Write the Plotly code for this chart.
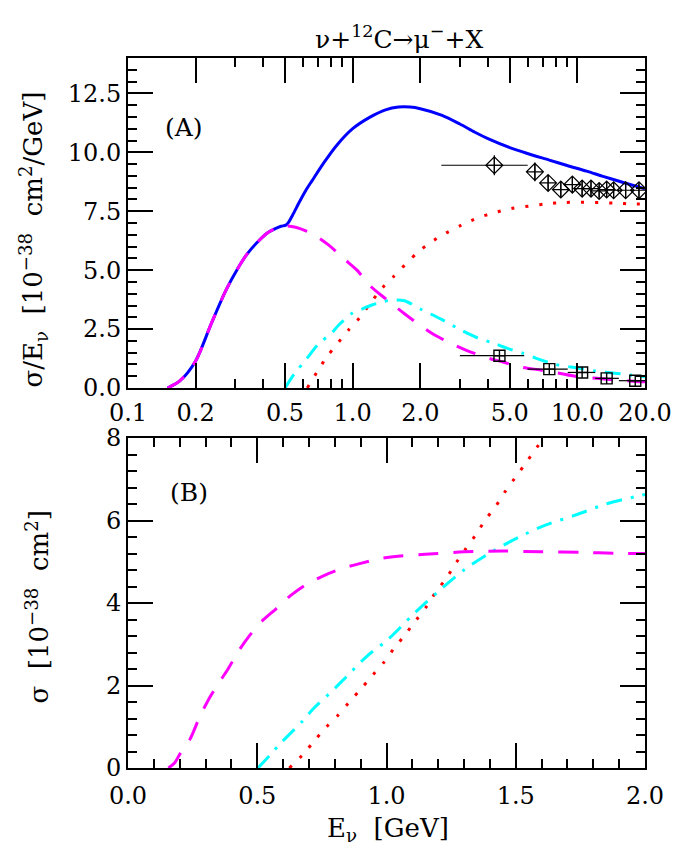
import plotly.graph_objects as go

# ---------- Panel A : sigma/E (log E axis) ----------
tot_E = [0.15, 0.17, 0.2, 0.235, 0.273, 0.308, 0.34, 0.384, 0.42, 0.455, 0.48, 0.504, 0.52, 0.54,
         0.58, 0.62, 0.66, 0.75, 0.85, 1.0, 1.2, 1.4, 1.6, 1.8, 2.0, 2.5, 3.0, 3.5, 4.0, 5.0, 6.0, 7.5,
         9.0, 11.0, 13.0, 16.0, 20.0]
tot_v = [0.0, 0.3, 1.15, 2.74, 4.15, 5.07, 5.7, 6.27, 6.6, 6.77, 6.86, 6.91, 7.05, 7.33,
         7.9, 8.4, 8.8, 9.6, 10.3, 11.0, 11.5, 11.8, 11.92, 11.92, 11.85, 11.57, 11.2, 10.85, 10.58, 10.2, 9.95, 9.67,
         9.44, 9.2, 8.98, 8.72, 8.45]

qe_E = [0.15, 0.17, 0.2, 0.235, 0.273, 0.308, 0.34, 0.384, 0.42, 0.455, 0.5, 0.557, 0.66, 0.783,
        0.91, 1.045, 1.2, 1.396, 1.7, 2.24, 2.66, 3.19, 3.88, 4.66, 5.6, 6.86, 8.15, 10.0, 12.2,
        15.0, 18.8, 20.0]
qe_v = [0.0, 0.3, 1.15, 2.74, 4.15, 5.07, 5.7, 6.27, 6.6, 6.77, 6.88, 6.82, 6.55, 6.06,
        5.5, 5.0, 4.32, 3.8, 3.15, 2.33, 1.95, 1.61, 1.31, 1.1, 0.89, 0.76, 0.64, 0.48, 0.41,
        0.34, 0.27, 0.26]

res_E = [0.5, 0.55, 0.618, 0.708, 0.8, 0.867, 0.993, 1.1, 1.217, 1.35, 1.493, 1.7, 2.0, 2.5,
         3.03, 3.61, 4.21, 5.0, 5.71, 6.52, 8.0, 10.0, 12.0, 15.0, 17.2, 20.0]
res_v = [0.0, 0.6, 1.19, 1.89, 2.3, 2.67, 3.17, 3.35, 3.52, 3.65, 3.73, 3.7, 3.35, 2.9,
         2.46, 2.12, 1.91, 1.65, 1.48, 1.27, 1.0, 0.85, 0.72, 0.62, 0.55, 0.48]

dis_E = [0.628, 0.695, 0.769, 0.959, 1.082, 1.197, 1.348, 1.518, 1.96, 2.24, 2.61, 3.05, 3.61,
         4.28, 5.07, 6.11, 7.24, 8.73, 10.3, 12.5, 14.8, 17.8, 20.0]
dis_v = [0.0, 0.69, 1.33, 2.46, 3.02, 3.59, 4.22, 4.72, 5.78, 6.2, 6.58, 6.91, 7.22,
         7.44, 7.61, 7.72, 7.81, 7.87, 7.88, 7.87, 7.84, 7.81, 7.8]

# data: diamonds (total) and squares
dia_E = [4.27, 6.47, 7.41, 8.44, 9.5, 10.5, 11.5, 12.5, 13.5, 14.5, 16.4, 18.8]
dia_v = [9.45, 9.17, 8.7, 8.42, 8.63, 8.46, 8.46, 8.36, 8.42, 8.39, 8.39, 8.39]
dia_ey = [0.42, 0.4, 0.33, 0.3, 0.3, 0.28, 0.28, 0.28, 0.28, 0.28, 0.28, 0.28]
dia_xlo = [2.48, 6.47, 7.41, 8.44, 9.5, 10.5, 11.5, 12.5, 13.5, 14.5, 16.4, 18.8]
dia_xhi = [6.01, 6.47, 7.41, 8.44, 9.5, 10.5, 11.5, 12.5, 13.5, 14.5, 16.4, 18.8]

sq_E = [4.5, 7.5, 10.5, 13.5, 18.1]
sq_v = [1.37, 0.8, 0.66, 0.41, 0.31]
sq_xlo = [3.0, 6.0, 9.06, 12.0, 15.3]
sq_xhi = [5.8, 9.06, 12.0, 15.3, 20.0]

# ---------- Panel B : sigma (linear E axis) ----------
qeB_E = [0.156, 0.18, 0.2, 0.24, 0.278, 0.32, 0.35, 0.387, 0.426, 0.47, 0.515, 0.573, 0.631, 0.695,
         0.76, 0.83, 0.9, 0.977, 1.054, 1.15, 1.3, 1.45, 1.6, 1.75, 1.9, 2.0]
qeB_v = [0.0, 0.12, 0.33, 0.7, 1.25, 1.75, 2.05, 2.4, 2.82, 3.21, 3.54, 3.86, 4.19, 4.47,
         4.67, 4.84, 4.96, 5.08, 5.14, 5.18, 5.24, 5.26, 5.24, 5.23, 5.2, 5.2]

resB_E = [0.503, 0.55, 0.592, 0.676, 0.714, 0.797, 0.849, 0.926, 1.003, 1.108, 1.2, 1.3, 1.396,
          1.51, 1.62, 1.73, 1.85, 1.97, 2.0]
resB_v = [0.0, 0.32, 0.61, 1.14, 1.42, 1.91, 2.24, 2.72, 3.1, 3.75, 4.28, 4.8, 5.2,
          5.59, 5.9, 6.13, 6.4, 6.59, 6.63]

disB_E = [0.624, 0.676, 0.72, 0.765, 0.81, 0.855, 0.9, 0.945, 0.99, 1.028, 1.069, 1.114, 1.153,
          1.191, 1.23, 1.268, 1.307, 1.345, 1.383, 1.422, 1.46, 1.499, 1.54, 1.58, 1.65, 1.8, 2.0]
disB_v = [0.0, 0.32, 0.65, 0.98, 1.26, 1.59, 1.91, 2.24, 2.56, 2.89, 3.21, 3.58, 3.9,
          4.27, 4.59, 4.96, 5.32, 5.65, 6.02, 6.34, 6.71, 7.05, 7.4, 7.76, 8.3, 9.3, 11.5]

top_ticks = [0.1, 0.2, 0.5, 1.0, 2.0, 5.0, 10.0, 20.0]
top_ticklabels = ["0.1", "0.2", "0.5", "1.0", "2.0", "5.0", "10.0", "20.0"]
top_minor = [0.3, 0.4, 0.6, 0.7, 0.8, 0.9, 3, 4, 6, 7, 8, 9]

FONT = "DejaVu Serif"
BLUE = "#0000ff"
MAG = "#ff00ff"
CYAN = "#00ffff"
RED = "#ff0000"
SM = 0.8

fig = go.Figure()

# panel A curves
fig.add_trace(go.Scatter(x=tot_E, y=tot_v, mode="lines",
                         line=dict(color=BLUE, width=3, shape="spline", smoothing=SM),
                         xaxis="x", yaxis="y", showlegend=False))
fig.add_trace(go.Scatter(x=dis_E, y=dis_v, mode="lines",
                         line=dict(color=RED, width=3, dash="3px,11px", shape="spline", smoothing=SM),
                         xaxis="x", yaxis="y", showlegend=False))
fig.add_trace(go.Scatter(x=res_E, y=res_v, mode="lines",
                         line=dict(color=CYAN, width=3, dash="16px,9px,3px,9px", shape="spline", smoothing=SM),
                         xaxis="x", yaxis="y", showlegend=False))
fig.add_trace(go.Scatter(x=qe_E, y=qe_v, mode="lines",
                         line=dict(color=MAG, width=3, dash="20px,15px", shape="spline", smoothing=SM),
                         xaxis="x", yaxis="y", showlegend=False))

fig.add_trace(go.Scatter(
    x=dia_E, y=dia_v, mode="markers",
    marker=dict(symbol="diamond-cross-open", size=13, color="black", line=dict(width=1.2, color="black")),
    error_y=dict(type="data", array=dia_ey, color="black", thickness=1.2, width=0),
    error_x=dict(type="data", symmetric=False,
                 array=[h - e for h, e in zip(dia_xhi, dia_E)],
                 arrayminus=[e - l for l, e in zip(dia_xlo, dia_E)],
                 color="black", thickness=1.2, width=0),
    xaxis="x", yaxis="y", showlegend=False))
fig.add_trace(go.Scatter(
    x=sq_E, y=sq_v, mode="markers",
    marker=dict(symbol="square-cross-open", size=11, color="black", line=dict(width=1.4, color="black")),
    error_x=dict(type="data", symmetric=False,
                 array=[h - e for h, e in zip(sq_xhi, sq_E)],
                 arrayminus=[e - l for l, e in zip(sq_xlo, sq_E)],
                 color="black", thickness=1.2, width=0),
    xaxis="x", yaxis="y", showlegend=False))

# panel B curves
fig.add_trace(go.Scatter(x=disB_E, y=disB_v, mode="lines",
                         line=dict(color=RED, width=3, dash="3px,11px", shape="spline", smoothing=SM),
                         xaxis="x2", yaxis="y2", showlegend=False))
fig.add_trace(go.Scatter(x=resB_E, y=resB_v, mode="lines",
                         line=dict(color=CYAN, width=3, dash="16px,9px,3px,9px", shape="spline", smoothing=SM),
                         xaxis="x2", yaxis="y2", showlegend=False))
fig.add_trace(go.Scatter(x=qeB_E, y=qeB_v, mode="lines",
                         line=dict(color=MAG, width=3, dash="20px,15px", shape="spline", smoothing=SM),
                         xaxis="x2", yaxis="y2", showlegend=False))

TICKFONT = dict(family=FONT, size=24, color="black")
axis_common = dict(showline=True, linecolor="black", linewidth=2, mirror="ticks", ticks="inside",
                   tickcolor="black", tickwidth=1.5, ticklen=25, showgrid=False, zeroline=False,
                   tickfont=TICKFONT)
minor_common = dict(ticks="inside", ticklen=9, tickcolor="black", tickwidth=1.5)

# plot area: x 128..648 px, panel A y 58..388 px, panel B y 438..768 px
def px_x(p):
    return (p - 128) / 520.0

def px_y(p):
    return (768 - p) / 710.0

fig.update_layout(
    width=684, height=859,
    margin=dict(l=128, r=36, t=58, b=91),
    paper_bgcolor="white", plot_bgcolor="white",
    font=dict(family=FONT, color="black"),
    xaxis=dict(type="log", range=[-1, 1.30103], domain=[0, 1], anchor="y",
               tickmode="array", tickvals=top_ticks, ticktext=top_ticklabels,
               ticklabelstandoff=2,
               minor=dict(tickmode="array", tickvals=top_minor, **minor_common),
               **axis_common),
    yaxis=dict(range=[0, 14], domain=[px_y(388), 1.0], anchor="x",
               tickmode="array", tickvals=[0, 2.5, 5, 7.5, 10, 12.5],
               ticktext=["0.0", "2.5", "5.0", "7.5", "10.0", "12.5"],
               minor=dict(dtick=0.5, tick0=0, **minor_common),
               **axis_common),
    xaxis2=dict(range=[0, 2], domain=[0, 1], anchor="y2",
                tickmode="array", tickvals=[0, 0.5, 1.0, 1.5, 2.0],
                ticktext=["0.0", "0.5", "1.0", "1.5", "2.0"],
                ticklabelstandoff=5,
                minor=dict(dtick=0.1, tick0=0, **minor_common),
                **axis_common),
    yaxis2=dict(range=[0, 8], domain=[0, px_y(438)], anchor="x2",
                tickmode="array", tickvals=[0, 2, 4, 6, 8],
                minor=dict(dtick=0.4, tick0=0, **minor_common),
                **axis_common),
    annotations=[
        dict(text="ν+<sup>12</sup>C→μ<sup>−</sup>+X", xref="paper", yref="paper",
             x=px_x(401), y=px_y(37), xanchor="center", yanchor="middle",
             showarrow=False, font=dict(family=FONT, size=25, color="black")),
        dict(text="(A)", xref="paper", yref="paper", x=px_x(163), y=px_y(128),
             xanchor="left", yanchor="middle", showarrow=False,
             font=dict(family=FONT, size=25, color="black")),
        dict(text="(B)", xref="paper", yref="paper", x=px_x(168), y=px_y(492),
             xanchor="left", yanchor="middle", showarrow=False,
             font=dict(family=FONT, size=25, color="black")),
        dict(text="σ/E<sub>ν</sub>  [10<sup>−38</sup>  cm<sup>2</sup>/GeV]", xref="paper", yref="paper",
             x=px_x(32), y=px_y(240), xanchor="center", yanchor="middle", textangle=-90,
             showarrow=False, font=dict(family=FONT, size=26, color="black")),
        dict(text="σ  [10<sup>−38</sup>  cm<sup>2</sup>]", xref="paper", yref="paper",
             x=px_x(37), y=px_y(607), xanchor="center", yanchor="middle", textangle=-90,
             showarrow=False, font=dict(family=FONT, size=26, color="black")),
        dict(text="E<sub>ν</sub>  [GeV]", xref="paper", yref="paper",
             x=px_x(390), y=px_y(830), xanchor="center", yanchor="middle",
             showarrow=False, font=dict(family=FONT, size=26, color="black")),
    ],
)

fig.write_html("out.html")
